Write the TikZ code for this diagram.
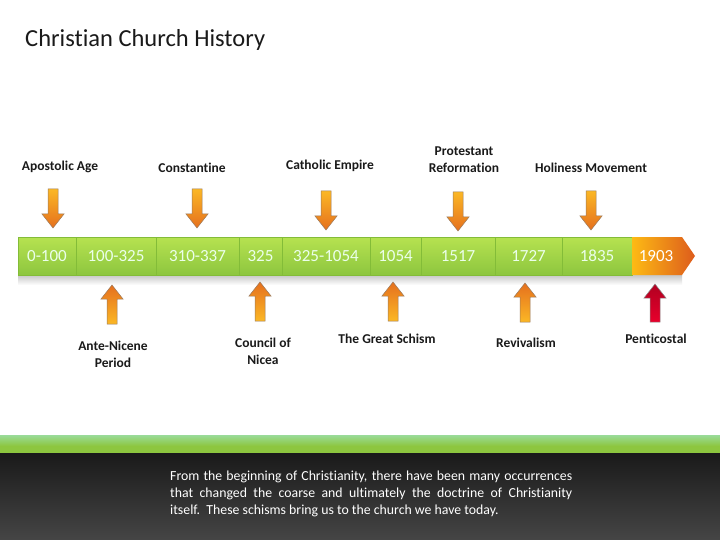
\documentclass[tikz,border=0pt]{standalone}
\usepackage{fontspec}
\setmainfont{Carlito}[Ligatures=NoCommon]
\usetikzlibrary{positioning}
\definecolor{barTop}{HTML}{B6E250}
\definecolor{barBot}{HTML}{8DC63F}
\definecolor{barEdge}{HTML}{83BC38}
\definecolor{arrLight}{HTML}{FBB725}
\definecolor{arrDark}{HTML}{E5701E}
\definecolor{arrEdge}{HTML}{9A7B5E}
\definecolor{redLight}{HTML}{E8002C}
\definecolor{redDark}{HTML}{B00020}
\definecolor{tipLight}{HTML}{FDBA14}
\definecolor{tipDark}{HTML}{DD5C1C}
\definecolor{bandTop}{HTML}{1A1A1A}
\definecolor{bandBot}{HTML}{454545}
\definecolor{inkText}{HTML}{1A1A1A}
\newcommand\downpoint[2]{
    \shade[top color=arrLight, bottom color=arrDark, draw=arrEdge, line width=0.5pt,
    shift={(#1,#2)}] (-5,0) -- (5,0) -- (5,25) -- (11,25) -- (0,39) -- (-11,25) -- (-5,25) -- cycle;
}
\newcommand\uppoint[2]{
    \shade[top color=arrDark, bottom color=arrLight, draw=arrEdge, line width=0.5pt,
    shift={(#1,#2)}] (-5,39) -- (5,39) -- (5,14) -- (11,14) -- (0,0) -- (-11,14) -- (-5,14) -- cycle;
}
\tikzset{
    cell/.style={draw=barEdge, line width=0.8pt, top color=barTop, bottom color=barBot,
        minimum height=38pt, inner sep=0pt, text=white!92!green, font=\fontsize{17}{17}\selectfont},
    event/.style={font=\fontsize{13.5}{17}\selectfont\bfseries, text=inkText, align=center, inner sep=0pt}
}
\begin{document}
\begin{tikzpicture}[x=1pt,y=-1pt]
\useasboundingbox (0,0) rectangle (720,540);
\fill[white] (0,0) rectangle (720,540);

\node[anchor=west, font=\fontsize{24.5}{24.5}\selectfont, text=inkText, inner sep=0pt] (title) at (25,40) {Christian Church History};

% shadow under the bar
\shade[top color=black!22, bottom color=white] (18,275) rectangle (682,285);

% timeline
\foreach \l/\r/\t [count=\i] in {18/76/0-100, 76/156/100-325, 156/239/310-337, 239/282/325,
    282/370/325-1054, 370/421/1054, 421/495/1517, 495/562/1727, 562/632/1835}
    \node[cell, minimum width={(\r-\l)*1pt}] (c\i) at ({(\l+\r)/2},256) {\t};
\shade[left color=tipLight, right color=tipDark] (632,237) -- (682,237) -- (695,256) -- (682,275) -- (632,275) -- cycle;
\node[text=white, font=\fontsize{17}{17}\selectfont] (c10) at (656,256) {1903};

% events above
\node[event] (apostolic) at (60,167) {Apostolic Age};
\node[event] (constantine) at (192,168) {Constantine};
\node[event] (catholic) at (330,166) {Catholic Empire};
\node[event] (protestant) at (464,160) {Protestant\\Reformation};
\node[event] (holiness) at (591,168) {Holiness Movement};
\downpoint{53}{189}
\downpoint{197}{189}
\downpoint{326}{191}
\downpoint{458}{192}
\downpoint{591}{191}

% events below
\uppoint{112}{285}
\uppoint{260}{282}
\uppoint{393}{282}
\uppoint{525}{283}
\shade[top color=redDark, bottom color=redLight, draw=black!45, line width=0.5pt,
    shift={(655,284)}] (-5,38) -- (5,38) -- (5,14) -- (11,14) -- (0,0) -- (-11,14) -- (-5,14) -- cycle;
\node[event] (antenicene) at (113,354) {Ante-Nicene\\Period};
\node[event] (nicea) at (263,351) {Council of\\Nicea};
\node[event] (schism) at (387,339) {The Great Schism};
\node[event] (revival) at (526,343) {Revivalism};
\node[event] (pente) at (656,339) {Penticostal};

% footer
\shade[top color=black!35!green!40, middle color=green!10!white, bottom color=barBot] (0,435) rectangle (720,446);
\fill[barBot] (0,446) rectangle (720,453);
\shade[top color=bandTop, bottom color=bandBot] (0,453) rectangle (720,540);
\node[anchor=north west, text=white, align=left, inner sep=0pt,
    font=\fontsize{13.8}{17}\selectfont] (note) at (170,471)
    {\makebox[402pt][s]{From the beginning of Christianity, there have been many occurrences}\\
     \makebox[402pt][s]{that changed the coarse and ultimately the doctrine of Christianity}\\
     itself.\ \ These schisms bring us to the church we have today.};
\end{tikzpicture}
\end{document}
